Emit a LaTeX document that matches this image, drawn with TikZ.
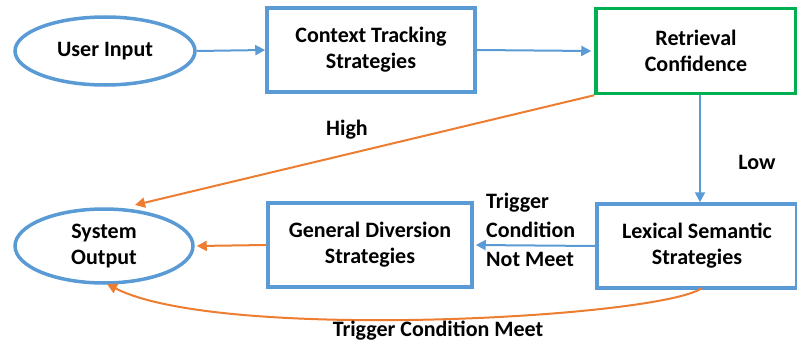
\documentclass[tikz,border=0pt]{standalone}
\usepackage{fontspec}
\setmainfont{Carlito}
\usetikzlibrary{shapes.geometric,arrows.meta}
\definecolor{cblue}{RGB}{91,155,213}
\definecolor{cgreen}{RGB}{0,176,80}
\definecolor{corange}{RGB}{237,125,49}
\begin{document}
\begin{tikzpicture}[x=1pt,y=-1pt,
  txt/.style={font=\fontsize{22}{26}\selectfont\bfseries, align=center},
  oval/.style={ellipse, draw=cblue, line width=3.5pt, inner sep=0pt, txt},
  boxn/.style={rectangle, draw=cblue, line width=3.5pt, inner sep=0pt, txt},
  barrow/.style={draw=cblue, line width=2pt, -{Triangle[length=10pt,width=10pt]}},
  oarrow/.style={draw=corange, line width=2pt, -{Triangle[length=10pt,width=10pt]}},
  lbl/.style={font=\fontsize{22}{29}\selectfont\bfseries, inner sep=0pt}
]
\useasboundingbox (0,0) rectangle (797,345);
\node[oval, minimum width=180, minimum height=68] (ui) at (105,51) {User Input};
\node[boxn, minimum width=208, minimum height=84] (ct) at (371,50) {Context Tracking\\Strategies};
\node[boxn, draw=cgreen, minimum width=200, minimum height=85] (rc) at (696,51) {Retrieval\\Confidence};
\node[oval, minimum width=178, minimum height=74] (so) at (104,246) {System\\Output};
\node[boxn, minimum width=204, minimum height=84] (gd) at (370,245) {General Diversion\\Strategies};
\node[boxn, minimum width=200, minimum height=84] (ls) at (697,246) {Lexical Semantic\\Strategies};

\draw[barrow] (ui.east) -- (ct.west);
\draw[barrow] (ct.east) -- ([xshift=-3pt]rc.west);
\coordinate (lowtop) at (700,95);
\draw[barrow] (rc.south -| lowtop) -- (ls.north -| lowtop);
\node[lbl] (low) at (757,162) {Low};
\draw[oarrow] (rc.south west) -- (135,205);
\node[lbl] (high) at (347,130) {High};
\draw[barrow] (ls.west) -- ([xshift=2pt]gd.east);
\node[lbl, align=left, anchor=west] (tc) at (486,230) {Trigger\\Condition\\Not Meet};
\draw[oarrow] (gd.west) -- ([xshift=2pt]so.east);
\coordinate (lsb) at (702,288);
\coordinate (sob) at (107,284);
\draw[oarrow] (lsb) .. controls (660,318) and (220,342) .. (sob);
\node[lbl] (tcm) at (438,331) {Trigger Condition Meet};
\end{tikzpicture}
\end{document}
